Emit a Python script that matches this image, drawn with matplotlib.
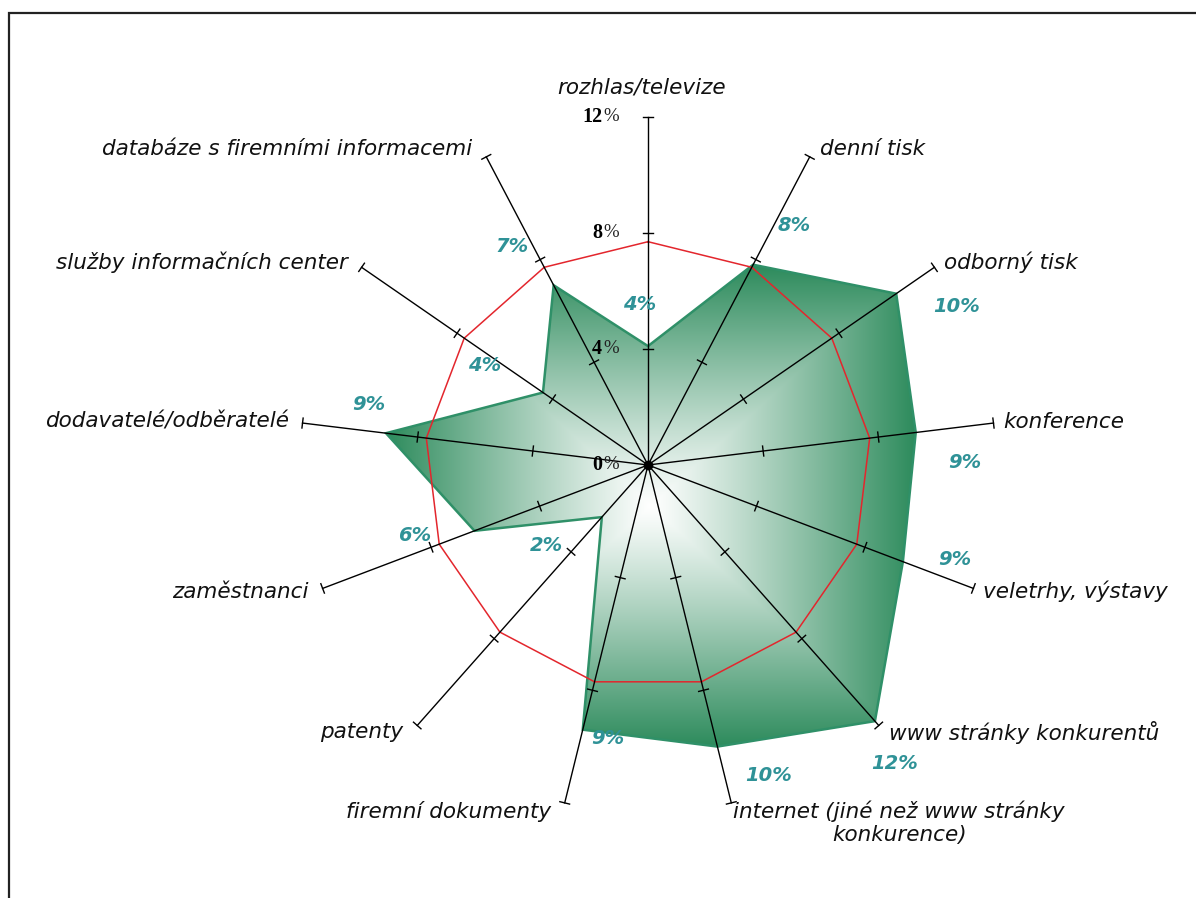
import matplotlib.pyplot as plt
import numpy as np
from matplotlib.patches import Polygon, Rectangle
from matplotlib.colors import to_rgb

kategorie = ["rozhlas/televize", "denní tisk", "odborný tisk", "konference",
             "veletrhy, výstavy", "www stránky konkurentů",
             "internet (jiné než www stránky\nkonkurence)", "firemní dokumenty",
             "patenty", "zaměstnanci", "dodavatelé/odběratelé",
             "služby informačních center", "databáze s firemními informacemi"]
podil = [4.1, 7.8, 10.4, 9.3, 9.4, 11.8, 10.0, 9.4, 2.4, 6.4, 9.1, 4.4, 7.0]  # %
prumer = 7.7  # % (red reference line)
stupnice = [0, 4, 8, 12]

# offsets of the value labels from their points, pixels
posun = [(-8, 42), (41, 39), (60, -13), (49, -30), (52, 2), (20, -42), (51, -29),
         (25, -9), (-55, -28), (-60, -5), (-17, 29), (-58, 27), (-42, 39)]

W, H = 1196, 898
PX = 29.0            # pixels per 1 %
CX, CY = 648, 465    # chart centre, pixels from top left

fig = plt.figure(figsize=(W / 100, H / 100), dpi=100)
ax = fig.add_axes([0, 0, 1, 1])
ax.axis("off")

n = len(kategorie)
uhel = np.arange(n) * 2 * np.pi / n
sx, sy = np.sin(uhel), np.cos(uhel)

# gradient-filled data polygon
body = np.column_stack([np.array(podil) * sx, np.array(podil) * sy])
zelena = np.array(to_rgb("#2d8b5c"))
x0, x1 = body[:, 0].min(), body[:, 0].max()
y0, y1 = body[:, 1].min(), body[:, 1].max()
gx, gy = np.meshgrid(np.linspace(x0, x1, 500), np.linspace(y0, y1, 500))
t = np.maximum(np.abs(gx - (x0 + x1) / 2) / ((x1 - x0) / 2),
               np.abs(gy - (y0 + y1) / 2) / ((y1 - y0) / 2))
t = np.clip(t, 0, 1)[..., None] ** 1.1
img = (1 - t) * np.ones(3) + t * zelena
tvar = Polygon(body, closed=True, facecolor="none", edgecolor="#2f9068", lw=1.8, zorder=3)
ax.add_patch(tvar)
im = ax.imshow(img, extent=(x0, x1, y0, y1), origin="lower", zorder=2, interpolation="bilinear")
im.set_clip_path(tvar)
ax.set_xlim(-CX / PX, (W - CX) / PX)
ax.set_ylim(-(H - CY) / PX, CY / PX)
ax.set_aspect("auto")

# average line
ax.plot(np.append(prumer * sx, prumer * sx[0]), np.append(prumer * sy, prumer * sy[0]),
        color="#e3262d", lw=1.1, zorder=4)

# category axes with tick marks
d = 5 / PX
for i in range(n):
    ax.plot([0, 12 * sx[i]], [0, 12 * sy[i]], color="black", lw=1.0, zorder=5)
    for r in stupnice[1:]:
        px_, py_ = r * sx[i], r * sy[i]
        ax.plot([px_ - d * sy[i], px_ + d * sy[i]], [py_ + d * sx[i], py_ - d * sx[i]],
                color="black", lw=1.0, zorder=5)
ax.plot(0, 0, "o", color="black", ms=6, zorder=6)

# scale labels on the top axis
for r in stupnice:
    ax.annotate(str(r), (0, r), xytext=(-46, 0), textcoords="offset pixels",
                ha="right", va="center", fontsize=14.5, fontweight="bold",
                family="Liberation Serif", zorder=7)
    ax.annotate("%", (0, r), xytext=(-45, 0), textcoords="offset pixels",
                ha="left", va="center", fontsize=13.5, color="#222222",
                family="Liberation Serif", zorder=7)

# category labels
for i, k in enumerate(kategorie):
    ex, ey = 12 * sx[i], 12 * sy[i]
    if abs(sx[i]) < 0.1:
        ha, off = "center", (-6, 29)
    elif sx[i] > 0:
        ha, off = "left", (10, 9 * sy[i])
    else:
        ha, off = "right", (-14, 9 * sy[i])
    va = "top" if "\n" in k else "center"
    if va == "top":
        off = (off[0] - 8, off[1] + 11)
    ax.annotate(k, (ex, ey), xytext=off, textcoords="offset pixels", ha=ha, va=va,
                ma="center", fontsize=15.5, style="italic", family="DejaVu Sans",
                color="#111111", zorder=7)

# value labels
for i, v in enumerate(podil):
    ax.annotate(f"{v:.0f}%", (v * sx[i], v * sy[i]), xytext=posun[i],
                textcoords="offset pixels", ha="center", va="center",
                fontsize=14, fontweight="bold", style="italic",
                family="DejaVu Sans", color="#2f9297", zorder=7)

# outer frame
fig.patches.append(Rectangle((9 / W, -0.01), 1.02, (H - 13) / H + 0.01,
                             transform=fig.transFigure, fill=False,
                             edgecolor="#222222", lw=1.6))

fig.savefig("out.png", dpi=100)
